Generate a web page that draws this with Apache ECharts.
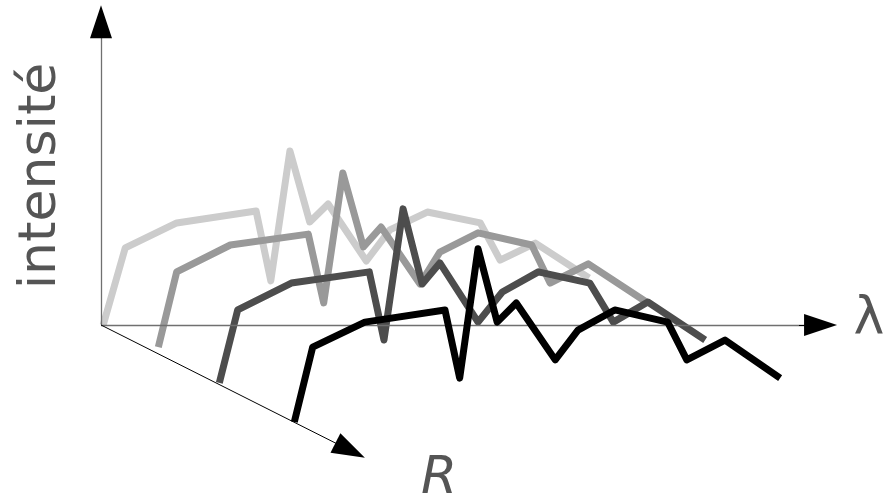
<!DOCTYPE html>
<html>
<head>
<meta charset="utf-8">
<script src="https://cdn.jsdelivr.net/npm/echarts@6/dist/echarts.min.js"></script>
<style>html,body{margin:0;padding:0;background:#fff}#c{width:884px;height:503px}</style>
</head>
<body>
<div id="c"></div>
<script>
// λ positions and intensity values for the four spectra (front to back: R increasing)
var lambda1 = [0.3, 3.3, 10.3, 21.1, 23.1, 25.7, 28.4, 30.9, 36.1, 39.3, 44.4, 51.6, 54.3, 59.1, 66.4];
var intens1 = [0, 24.1, 31.9, 35.6, 13.8, 54.4, 32.2, 37.8, 20.0, 29.7, 35.3, 31.9, 20.3, 25.6, 14.7];

var lambda2 = [7.8, 10.3, 17.6, 28.2, 30.3, 32.9, 35.7, 38.1, 43.4, 46.1, 51.3, 58.6, 61.1, 66.3, 74.2];
var intens2 = [-6.9, 16.6, 25.0, 28.4, 6.9, 47.5, 24.4, 30.6, 12.8, 22.8, 28.8, 25.0, 13.1, 19.1, 7.2];

var lambda3 = [16.1, 18.6, 25.9, 36.5, 38.5, 41.1, 43.7, 46.1, 51.3, 54.6, 59.5, 66.5, 69.7, 74.4, 82.2];
var intens3 = [-18.1, 4.7, 13.1, 16.6, -4.7, 36.3, 12.8, 19.4, 0.9, 10.3, 16.6, 13.1, 0.9, 7.2, -4.7];

var lambda4 = [26.3, 28.8, 35.9, 46.8, 48.8, 51.3, 53.9, 56.5, 61.8, 64.9, 69.9, 77.1, 79.7, 84.9, 92.4];
var intens4 = [-30.3, -6.9, 0.9, 4.7, -16.6, 23.8, 0.9, 6.9, -10.9, -1.6, 4.7, 0.9, -10.9, -4.7, -16.6];

var seriesColors = ['#cccccc', '#999999', '#4d4d4d', '#000000'];

// schematic axes (data coords): intensity axis, λ axis, R axis
var axisIntensEnd = [0, 94.8];
var axisLambdaEnd = [97.9, 0];
var axisREnd = [33.9, -39.2];

function pairs(xs, ys) { return xs.map(function (x, i) { return [x, ys[i]]; }); }

var lambdas = [lambda1, lambda2, lambda3, lambda4];
var intens = [intens1, intens2, intens3, intens4];

var series = lambdas.map(function (xs, i) {
  return {
    type: 'line',
    data: pairs(xs, intens[i]),
    showSymbol: false,
    symbol: 'none',
    silent: true,
    z: 2 + i,
    lineStyle: { color: seriesColors[i], width: 7, cap: 'butt', join: 'round' }
  };
});

function arrowAxis(end, lineColor, width, angleDummy) {
  // gray shaft without head
  return [
    {
      type: 'line', data: [], silent: true, z: 10,
      markLine: {
        silent: true, animation: false, symbol: ['none', 'none'],
        label: { show: false },
        lineStyle: { color: lineColor, width: width, type: 'solid' },
        data: [[{ coord: [0, 0] }, { coord: end }]]
      }
    },
    {
      type: 'line', data: [], silent: true, z: 11,
      markLine: {
        silent: true, animation: false, symbol: ['none', 'triangle'], symbolSize: [22, 33],
        label: { show: false },
        lineStyle: { color: '#000', width: 1, type: 'solid' },
        data: [[{ coord: [end[0] * 0.97, end[1] * 0.97] }, { coord: end }]]
      }
    }
  ];
}

series = series.concat(arrowAxis(axisIntensEnd, '#707070', 1.3))
  .concat(arrowAxis(axisLambdaEnd, '#707070', 1.3))
  .concat(arrowAxis(axisREnd, '#000000', 1));

var chart = echarts.init(document.getElementById('c'), null, { renderer: 'canvas' });
chart.setOption({
  animation: false,
  backgroundColor: '#ffffff',
  grid: { left: 101, right: 48, top: 5, bottom: 34, containLabel: false },
  xAxis: { type: 'value', min: 0, max: 100, show: false },
  yAxis: { type: 'value', min: -45, max: 100, show: false },
  series: series,
  graphic: [
    {
      type: 'text', x: 41, y: 176, rotation: Math.PI / 2,
      style: { text: 'intensité', fontSize: 52, fontFamily: 'DejaVu Sans', fill: '#555555', align: 'center', verticalAlign: 'middle' }
    },
    {
      type: 'text', x: 869, y: 319,
      style: { text: 'λ', fontSize: 52, fontFamily: 'DejaVu Sans', fill: '#555555', align: 'center', verticalAlign: 'middle' }
    },
    {
      type: 'text', x: 439, y: 479,
      style: { text: 'R', fontSize: 52, fontStyle: 'italic', fontFamily: 'DejaVu Sans', fill: '#555555', align: 'center', verticalAlign: 'middle' }
    }
  ]
});
</script>
</body>
</html>
